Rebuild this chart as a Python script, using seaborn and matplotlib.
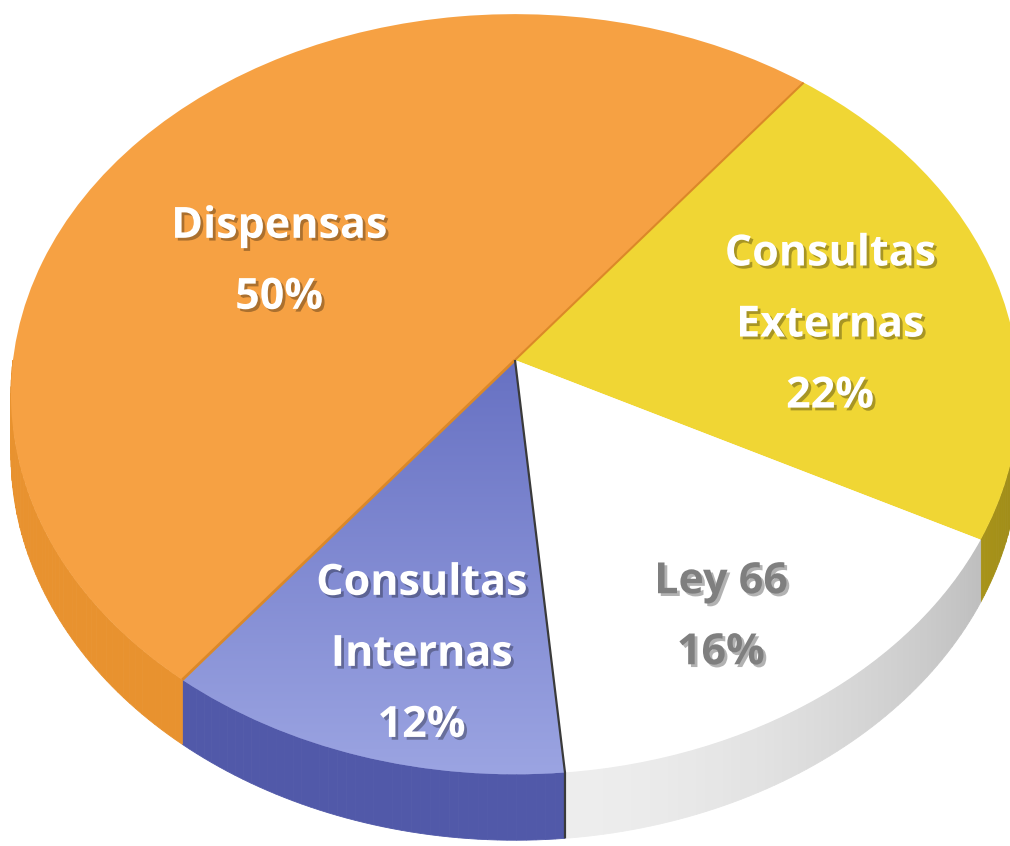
import numpy as np
import matplotlib
matplotlib.use("Agg")
import matplotlib.pyplot as plt
import matplotlib.patheffects as pe
from matplotlib.colors import to_rgb, LinearSegmentedColormap
from matplotlib.transforms import Transform
import seaborn as sns

# Data (clockwise, starting at the upper right)
categories = ["Consultas\nExternas", "Ley 66", "Consultas\nInternas", "Dispensas"]
shares = [22, 16, 12, 50]

# Styling
top_colors = ["#F0D634", "#FFFFFF", "#7880CC", "#F6A143"]
side_colors = ["#D2B820", "#EEEEEE", "#5159A9", "#E8922F"]
text_colors = ["white", "#7F7F7F", "white", "white"]
label_dist = [0.64, 0.75, 0.75, 0.55]
label_turn = [-4, -3, 3, 9]


class Tilt(Transform):
    """Simple perspective: the back of the pie is further away."""
    input_dims = output_dims = 2

    def __init__(self, a=502, b=377, k=0.09, drop=0.0, shift=-5):
        super().__init__()
        self.a, self.b, self.k, self.drop, self.shift = a, b, k, drop, shift

    def transform_non_affine(self, xy):
        xy = np.asarray(xy, float)
        w = 1 + self.k * xy[:, 1]
        return np.column_stack([self.a * xy[:, 0] / w + self.shift,
                                (self.b * xy[:, 1] - self.drop) / w])


tilt = Tilt()
tilt_low = Tilt(drop=60)


def visible_ranges(t1, t2):
    # front half of the pie is 180..360 degrees
    k = np.floor(t1 / 360.0)
    t1, t2 = t1 - 360 * k, t2 - 360 * k
    out = []
    for lo, hi in [(180, 360), (540, 720)]:
        a, b = max(t1, lo), min(t2, hi)
        if b > a:
            out.append((a, b))
    return out


def draw_wall(ax, a, b, color):
    base = np.array(to_rgb(color))
    edges = np.linspace(a, b, max(int(b - a), 2) + 1)
    for s, e in zip(edges[:-1], edges[1:]):
        t = np.radians(np.linspace(s, e, 4))
        top = tilt.transform(np.column_stack([np.cos(t), np.sin(t)]))
        low = tilt_low.transform(np.column_stack([np.cos(t), np.sin(t)]))[::-1]
        pts = np.vstack([top, low])
        mid = np.radians((s + e) / 2)
        f = 1.0 - 0.25 * max(0.0, np.cos(mid)) ** 2
        c = np.clip(base * f, 0, 1)
        ax.fill(pts[:, 0], pts[:, 1], color=c, lw=0.6, ec=c, zorder=1)


def radial_line(ax, ang, color, lw, down=False):
    t = np.radians(ang)
    pts = tilt.transform(np.array([[0, 0], [np.cos(t), np.sin(t)]]))
    if down:
        pts = np.vstack([pts, tilt_low.transform(np.array([[np.cos(t), np.sin(t)]]))])
    ax.plot(pts[:, 0], pts[:, 1], color=color, lw=lw, zorder=4, solid_capstyle="butt")


sns.set_theme(style="white")
plt.rcParams['font.family'] = ['Open Sans', 'DejaVu Sans']

fig = plt.figure(figsize=(10.1, 8.46), dpi=100)
ax = fig.add_axes([0, 0, 1, 1])

wedges, _ = ax.pie(shares, startangle=52, counterclock=False, colors=top_colors,
                   wedgeprops=dict(linewidth=0))

for w, sc in zip(wedges, side_colors):
    w.set_transform(tilt + ax.transData)
    w.set_zorder(3)
    for a, b in visible_ranges(w.theta1, w.theta2):
        draw_wall(ax, a, b, sc)

# gradient on the blue slice
blue_cmap = LinearSegmentedColormap.from_list("b", ["#9DA6E3", "#6670C2"])
grad = np.linspace(0, 1, 256).reshape(-1, 1)
im = ax.imshow(grad, extent=(-400, 100, -430, 10), origin="lower", cmap=blue_cmap,
               aspect="auto", zorder=3.5)
im.set_clip_path(wedges[2])

# seams
radial_line(ax, wedges[3].theta2, "#DB8828", 2.0)
radial_line(ax, wedges[3].theta1, "#DB8828", 1.5)
radial_line(ax, wedges[1].theta1, "#3A3A3A", 1.6, down=True)

shadow = [pe.withSimplePatchShadow(offset=(2, -2), shadow_rgbFace="black", alpha=0.3)]
for w, lab, val, tc, d, turn in zip(wedges, categories, shares, text_colors, label_dist, label_turn):
    mid = np.radians((w.theta1 + w.theta2) / 2 + turn)
    x, y = tilt.transform(np.array([[d * np.cos(mid), d * np.sin(mid)]]))[0]
    ax.text(x, y, f"{lab}\n{val}%", ha="center", va="center",
            fontsize=31, fontweight="bold", color=tc, linespacing=1.85,
            path_effects=shadow, zorder=5)

ax.set_aspect("auto")
ax.set_xlim(-520, 490)
ax.set_ylim(-486, 360)
ax.axis("off")

fig.savefig("out.png", dpi=100)
